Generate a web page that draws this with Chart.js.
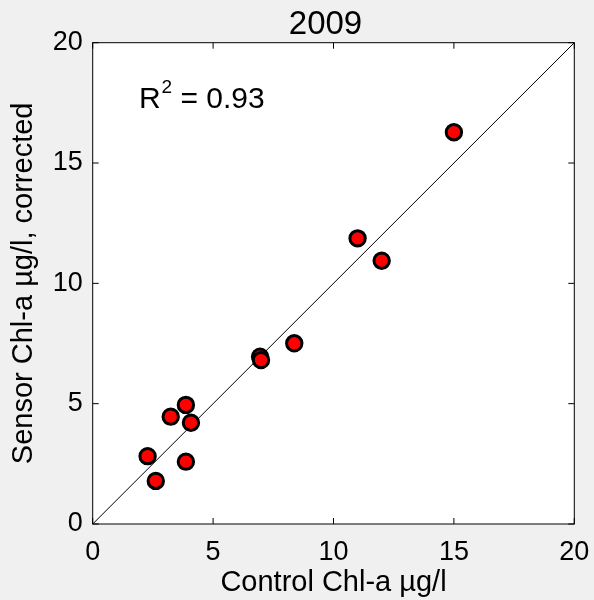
<!DOCTYPE html>
<html>
<head>
<meta charset="utf-8">
<script src="https://cdn.jsdelivr.net/npm/chart.js@4/dist/chart.umd.min.js"></script>
<style>
  html, body { margin: 0; padding: 0; background: #f0f0f0; }
  canvas { display: block; }
</style>
</head>
<body>
<canvas id="chlChart" width="594" height="600"></canvas>
<script>
// values
const controlChl = [15.0, 11.0, 12.0, 8.37, 6.95, 6.99, 3.87, 3.24, 4.08, 2.28, 3.87, 2.62];
const sensorChl  = [16.28, 11.87, 10.94, 7.51, 6.95, 6.81, 4.95, 4.46, 4.21, 2.82, 2.59, 1.79];
const oneToOneX = [0, 20];
const oneToOneY = [0, 20];
const axisTicks = [0, 5, 10, 15, 20];
const chartTitle = '2009';
const xLabel = 'Control Chl-a µg/l';
const yLabel = 'Sensor Chl-a µg/l, corrected';
const rSquared = '0.93';
const rLabelAt = [1.92, 17.29];

const FONT = '"Liberation Sans", Arial, sans-serif';

// grey figure background, white axes, box + inward ticks, title and R^2 text
const matlabLook = {
    id: 'matlabLook',
    beforeDraw(chart) {
        const ctx = chart.ctx;
        const a = chart.chartArea;
        ctx.save();
        ctx.fillStyle = '#f0f0f0';
        ctx.fillRect(0, 0, chart.width, chart.height);
        ctx.fillStyle = '#ffffff';
        ctx.fillRect(a.left, a.top, a.right - a.left, a.bottom - a.top);
        ctx.restore();
    },
    afterDraw(chart) {
        const ctx = chart.ctx;
        const a = chart.chartArea;
        const xs = chart.scales.x;
        const ys = chart.scales.y;
        ctx.save();
        ctx.strokeStyle = '#000';
        ctx.lineWidth = 1;
        ctx.strokeRect(a.left, a.top, a.right - a.left, a.bottom - a.top);
        const len = 6;
        ctx.beginPath();
        axisTicks.forEach(function(v) {
            const px = xs.getPixelForValue(v);
            ctx.moveTo(px, a.bottom); ctx.lineTo(px, a.bottom - len);
            ctx.moveTo(px, a.top); ctx.lineTo(px, a.top + len);
            const py = ys.getPixelForValue(v);
            ctx.moveTo(a.left, py); ctx.lineTo(a.left + len, py);
            ctx.moveTo(a.right, py); ctx.lineTo(a.right - len, py);
        });
        ctx.stroke();

        // title
        ctx.fillStyle = '#000';
        ctx.font = '33px ' + FONT;
        ctx.textAlign = 'center';
        ctx.textBaseline = 'middle';
        ctx.fillText(chartTitle, (a.left + a.right) / 2 - 8, 25);

        // R^2 = ...
        let tx = xs.getPixelForValue(rLabelAt[0]);
        const ty = ys.getPixelForValue(rLabelAt[1]);
        ctx.textAlign = 'left';
        ctx.textBaseline = 'alphabetic';
        ctx.font = '30px ' + FONT;
        ctx.fillText('R', tx, ty);
        tx += ctx.measureText('R').width;
        ctx.font = '19px ' + FONT;
        ctx.fillText('2', tx + 1, ty - 15);
        tx += ctx.measureText('2').width + 1;
        ctx.font = '30px ' + FONT;
        ctx.fillText(' = ' + rSquared, tx, ty);
        ctx.restore();
    }
};

const ctx = document.getElementById('chlChart').getContext('2d');
new Chart(ctx, {
    type: 'scatter',
    data: {
        datasets: [{
            type: 'line',
            data: oneToOneX.map((x, i) => ({ x: x, y: oneToOneY[i] })),
            borderColor: '#000',
            borderWidth: 1,
            pointRadius: 0,
            fill: false,
            order: 2
        }, {
            data: controlChl.map((x, i) => ({ x: x, y: sensorChl[i] })),
            backgroundColor: '#ff0000',
            borderColor: '#000',
            borderWidth: 3,
            pointRadius: 7.7,
            pointHoverRadius: 7.7,
            order: 1
        }]
    },
    options: {
        responsive: false,
        animation: false,
        layout: { padding: { left: 0, right: 19.7, top: 42.7, bottom: 0 } },
        plugins: {
            legend: { display: false },
            tooltip: { enabled: false }
        },
        scales: {
            x: {
                type: 'linear',
                min: 0,
                max: 20,
                afterFit(scale) {
                    scale.height = 76;
                    scale.paddingLeft = 0;
                    scale.paddingRight = 0;
                },
                afterBuildTicks(scale) { scale.ticks = axisTicks.map(v => ({ value: v })); },
                grid: { display: false, drawTicks: false },
                border: { display: false },
                ticks: {
                    color: '#000',
                    padding: 12,
                    maxRotation: 0,
                    font: { family: FONT, size: 27 }
                },
                title: {
                    display: true,
                    text: xLabel,
                    color: '#000',
                    padding: { top: 0, bottom: 0 },
                    font: { family: FONT, size: 29 }
                }
            },
            y: {
                type: 'linear',
                min: 0,
                max: 20,
                afterFit(scale) {
                    scale.width = 92.7;
                    scale.paddingTop = 0;
                    scale.paddingBottom = 0;
                },
                afterBuildTicks(scale) { scale.ticks = axisTicks.map(v => ({ value: v })); },
                grid: { display: false, drawTicks: false },
                border: { display: false },
                ticks: {
                    color: '#000',
                    padding: 10,
                    font: { family: FONT, size: 27 }
                },
                title: {
                    display: true,
                    text: yLabel,
                    color: '#000',
                    padding: { top: 7, bottom: 0 },
                    font: { family: FONT, size: 29 }
                }
            }
        }
    },
    plugins: [matlabLook]
});
</script>
</body>
</html>
